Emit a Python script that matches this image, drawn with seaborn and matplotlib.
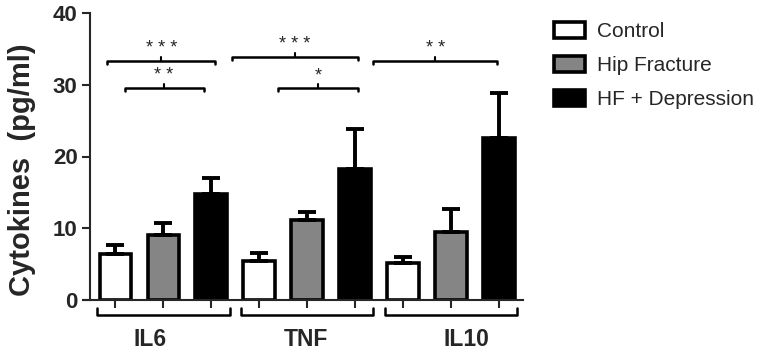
import numpy as np
import pandas as pd
import seaborn as sns
import matplotlib.pyplot as plt
from matplotlib.patches import Patch
from matplotlib.transforms import blended_transform_factory

cytokines = ["IL6", "TNF", "IL10"]
groups = ["Control", "Hip Fracture", "HF + Depression"]
colors = ["#ffffff", "#858585", "#000000"]

control = [6.4, 5.4, 5.2]
hip_fracture = [9.1, 11.15, 9.5]
hf_depression = [14.8, 18.3, 22.6]

control_err = [1.2, 1.1, 0.8]
hip_fracture_err = [1.6, 1.1, 3.2]
hf_depression_err = [2.2, 5.6, 6.3]

# significance brackets: (left x, right x, y, label)
sig_x_left = [-0.39, -0.27, 0.48, 0.80, 1.46]
sig_x_right = [0.36, 0.28, 1.35, 1.35, 2.32]
sig_y = [33.3, 29.5, 33.8, 29.5, 33.3]
sig_labels = ["***", "**", "***", "*", "**"]

label_x = [-0.09, 0.99, 2.11]

df = pd.DataFrame({
    "cytokine": cytokines * 3,
    "group": sum([[g] * 3 for g in groups], []),
    "value": control + hip_fracture + hf_depression,
    "err": control_err + hip_fracture_err + hf_depression_err,
})

sns.set_style("ticks")
plt.rcParams['font.family'] = ['Liberation Sans', 'DejaVu Sans']

fig = plt.figure(figsize=(7.68, 3.54), dpi=100)
ax = fig.add_axes([90 / 768, 54 / 354, 433 / 768, 287 / 354])

sns.barplot(data=df, x="cytokine", y="value", hue="group", order=cytokines,
            hue_order=groups, palette=colors, width=1.0, gap=0.34,
            edgecolor="black", linewidth=2.6, errorbar=None, legend=False, ax=ax)

# error bars from bar patches (upper only)
bars = [p for p in ax.patches if p.get_height() > 0]
for p, (_, row) in zip(bars, df.iterrows()):
    cx = p.get_x() + p.get_width() / 2
    ax.errorbar(cx, row["value"], yerr=[[0], [row["err"]]], fmt="none",
                ecolor="black", elinewidth=2.8, capsize=6.5, capthick=2.8, zorder=1)

ax.set_ylim(0, 40)
ax.set_xlim(-0.51, 2.5)
ax.set_yticks([0, 10, 20, 30, 40])
ax.tick_params(axis="y", labelsize=16, width=1.5, length=6, pad=3)
for t in ax.get_yticklabels():
    t.set_fontweight("bold")
ax.set_ylabel("Cytokines  (pg/ml)", fontsize=21, fontweight="bold")
ax.yaxis.set_label_coords(-0.125, 0.455)
ax.set_xlabel("")

# minor ticks at bar centers, major tick labels for groups
centers = sorted(p.get_x() + p.get_width() / 2 for p in bars)
ax.set_xticks(centers, minor=True)
ax.set_xticks(label_x)
ax.set_xticklabels(cytokines, fontsize=16.5, fontweight="bold")
ax.tick_params(axis="x", which="major", length=0, pad=20)
ax.tick_params(axis="x", which="minor", length=6, width=1.5, direction="out")

sns.despine(ax=ax)
ax.spines["left"].set_linewidth(1.5)
ax.spines["bottom"].set_linewidth(1.5)
ax.spines["bottom"].set_bounds(-0.56, 2.5)

# group brackets below the axis
trans = blended_transform_factory(ax.transData, ax.transAxes)
for i in range(len(cytokines)):
    xs = [i - 0.46, i - 0.46, i + 0.46, i + 0.46]
    ys = [-0.027, -0.052, -0.052, -0.027]
    ax.plot(xs, ys, color="black", lw=1.8, transform=trans, clip_on=False)

# significance brackets
for xl, xr, y, lab in zip(sig_x_left, sig_x_right, sig_y, sig_labels):
    xm = (xl + xr) / 2
    ax.plot([xl, xl, xr, xr], [y - 0.35, y, y, y - 0.35], color="black", lw=1.8, clip_on=False)
    ax.plot([xm, xm], [y, y + 0.6], color="black", lw=1.5)
    ax.text(xm, y + 0.6, " ".join(lab), ha="center", va="bottom", fontsize=13)

handles = [Patch(facecolor=c, edgecolor="black", linewidth=2.6) for c in colors]
fig.legend(handles, groups, loc="upper left", bbox_to_anchor=(546 / 768, 1 - 14 / 354),
           frameon=False, fontsize=15, handlelength=1.45, handleheight=0.75,
           labelspacing=0.72, handletextpad=0.6, borderaxespad=0)

fig.savefig("out.png", dpi=100)
